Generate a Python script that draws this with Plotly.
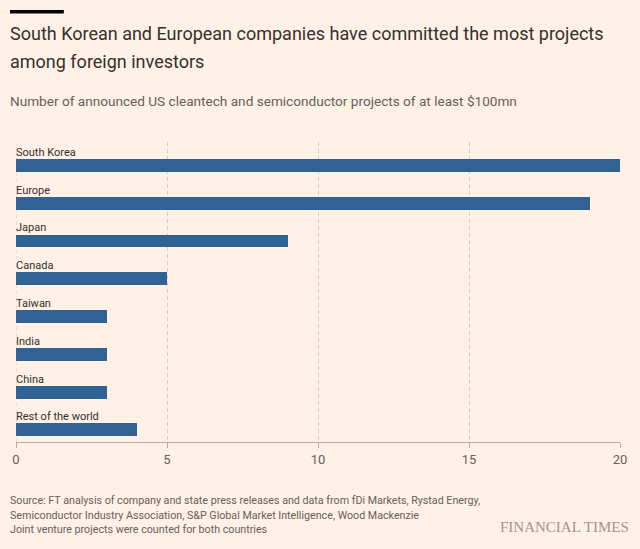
import plotly.graph_objects as go

countries = ["South Korea", "Europe", "Japan", "Canada", "Taiwan", "India", "China", "Rest of the world"]
projects = [20, 19, 9, 5, 3, 3, 3, 4]
x_ticks = [0, 5, 10, 15, 20]

BG = "#fff1e5"
BAR = "#306394"
TEXT = "#33302e"
MUTED = "#66605c"
GRID = "#d6ccc3"
FONT = "Roboto"

fig = go.Figure()
fig.add_trace(go.Bar(
    x=projects, y=countries, orientation="h",
    marker=dict(color=BAR, line=dict(width=0)),
    width=0.34, hoverinfo="x+y",
))

annotations = []
for c in countries:
    annotations.append(dict(
        x=0, y=c, xref="x", yref="y", text=c, showarrow=False,
        xanchor="left", yanchor="bottom", yshift=4.5, xshift=-2,
        font=dict(family=FONT, size=11, color=TEXT),
    ))

def ptext(text, x, y, size, color, family=FONT, xanchor="left"):
    return dict(xref="paper", yref="paper", x=x, y=y, text=text, showarrow=False,
                xanchor=xanchor, yanchor="middle", align="left",
                font=dict(family=family, size=size, color=color))

# convert pixel positions to paper coords (plot area x 14..620, y 142..442)
def px(xp):
    return (xp - 14) / 606.0

def py(yp):
    return (442 - yp) / 300.0

annotations += [
    ptext("South Korean and European companies have committed the most projects", px(6), py(34), 18, TEXT),
    ptext("among foreign investors", px(6), py(61), 18, TEXT),
    ptext("Number of announced US cleantech and semiconductor projects of at least $100mn", px(6), py(101), 13.6, MUTED),
    ptext("Source: FT analysis of company and state press releases and data from fDi Markets, Rystad Energy,", px(6), py(500), 10.7, MUTED),
    ptext("Semiconductor Industry Association, S&P Global Market Intelligence, Wood Mackenzie", px(6), py(515), 10.7, MUTED),
    ptext("Joint venture projects were counted for both countries", px(6), py(529), 10.7, MUTED),
    ptext("FINANCIAL TIMES", px(631), py(527), 15, "#9e958d", family="Liberation Serif", xanchor="right"),
]

fig.update_layout(
    width=640, height=549,
    paper_bgcolor=BG, plot_bgcolor=BG,
    margin=dict(l=14, r=20, t=142, b=107),
    showlegend=False,
    bargap=0,
    annotations=annotations,
    shapes=[
        dict(type="rect", xref="paper", yref="paper",
             x0=px(8), x1=px(62), y0=py(10), y1=py(13.5),
             fillcolor="#000000", line=dict(width=0)),
        dict(type="line", xref="x", yref="paper", x0=0, x1=0, y0=0, y1=1,
             layer="below", line=dict(color=GRID, width=1, dash="4px,3px")),
    ],
    xaxis=dict(
        range=[0, 20], tickvals=x_ticks, ticktext=[str(v) for v in x_ticks],
        showgrid=True, gridcolor=GRID, griddash="4px,3px", gridwidth=1,
        zeroline=False, showline=True, linecolor="#b5aca4", linewidth=1,
        ticks="outside", ticklen=5, tickcolor="#b5aca4",
        tickfont=dict(family=FONT, size=13, color=MUTED),
        fixedrange=True,
    ),
    yaxis=dict(
        type="category", categoryorder="array", categoryarray=countries,
        range=[7.32, -0.62], showticklabels=False, showgrid=False,
        zeroline=False, showline=False, ticks="", fixedrange=True,
    ),
)

fig.write_html("out.html", config={"displayModeBar": False},
               post_script="document.body.style.margin='0';document.body.style.background='#fff1e5';")
